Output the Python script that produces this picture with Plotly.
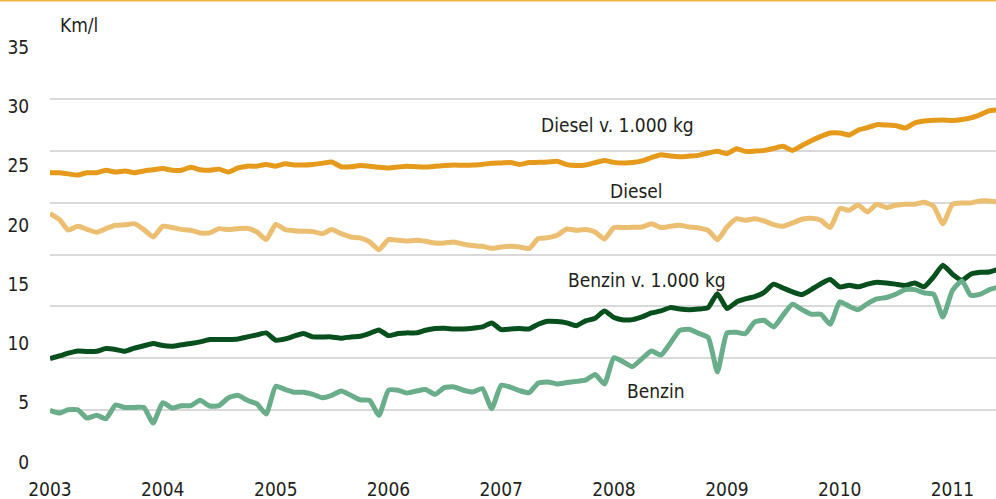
import pandas as pd
import plotly.graph_objects as go

months = pd.date_range("2003-01-01", periods=102, freq="MS")
year_ticks = [f"{y}-01-01" for y in range(2003, 2012)]
year_labels = [str(y) for y in range(2003, 2012)]
y_ticks = [0, 5, 10, 15, 20, 25, 30, 35]

diesel_1000 = [24.4, 24.4, 24.3, 24.2, 24.4, 24.4, 24.6, 24.45, 24.55, 24.4, 24.55, 24.65,
               24.75, 24.6, 24.6, 24.85, 24.65, 24.6, 24.7, 24.45, 24.8, 24.95, 24.95, 25.1,
               24.95, 25.15, 25.05, 25.05, 25.1, 25.2, 25.3, 24.9, 24.9, 25.0, 24.95, 24.85,
               24.8, 24.88, 24.94, 24.9, 24.88, 24.94, 25.0, 25.05, 25.02, 25.05, 25.1, 25.2,
               25.22, 25.25, 25.1, 25.25, 25.27, 25.3, 25.36, 25.08, 25.0, 25.05, 25.25, 25.42,
               25.27, 25.22, 25.25, 25.39, 25.67, 25.92, 25.8, 25.75, 25.8, 25.86, 26.06, 26.2,
               26.0, 26.42, 26.2, 26.22, 26.28, 26.45, 26.62, 26.28, 26.7, 27.1, 27.46, 27.75,
               27.75, 27.58, 27.98, 28.2, 28.45, 28.42, 28.37, 28.17, 28.6, 28.76, 28.82, 28.85,
               28.8, 28.88, 29.02, 29.3, 29.63, 29.7]

diesel = [20.95, 20.44, 19.57, 19.88, 19.62, 19.37, 19.68, 19.96, 20.0, 20.1, 19.6, 18.98,
          19.88, 19.77, 19.62, 19.54, 19.32, 19.32, 19.68, 19.6, 19.68, 19.71, 19.4, 18.77,
          20.04, 19.6, 19.51, 19.46, 19.43, 19.26, 19.6, 19.26, 18.98, 18.9, 18.56, 17.91,
          18.75, 18.7, 18.64, 18.7, 18.61, 18.47, 18.47, 18.56, 18.36, 18.25, 18.19, 18.02,
          18.14, 18.19, 18.14, 18.0, 18.84, 18.92, 19.12, 19.65, 19.54, 19.6, 19.4, 18.81,
          19.77, 19.77, 19.79, 19.82, 20.1, 19.77, 19.88, 19.96, 19.82, 19.74, 19.54, 18.75,
          19.82, 20.52, 20.38, 20.52, 20.33, 20.02, 19.88, 20.16, 20.47, 20.55, 20.38, 19.77,
          21.37, 21.23, 21.68, 21.09, 21.74, 21.46, 21.65, 21.74, 21.74, 21.91, 21.57, 20.1,
          21.74, 21.85, 21.85, 22.02, 22.02, 21.9]

benzin_1000 = [8.72, 8.95, 9.18, 9.37, 9.32, 9.34, 9.57, 9.49, 9.34, 9.6, 9.8, 9.99,
               9.82, 9.77, 9.88, 9.99, 10.13, 10.33, 10.33, 10.33, 10.38, 10.55, 10.72, 10.89,
               10.27, 10.38, 10.61, 10.83, 10.55, 10.55, 10.55, 10.44, 10.55, 10.6, 10.85, 11.14,
               10.66, 10.83, 10.89, 10.89, 11.11, 11.25, 11.28, 11.22, 11.22, 11.28, 11.39, 11.73,
               11.17, 11.22, 11.25, 11.22, 11.62, 11.87, 11.84, 11.73, 11.5, 11.9, 12.12, 12.74,
               12.18, 11.98, 12.01, 12.24, 12.57, 12.74, 13.02, 12.9, 12.85, 12.9, 13.02, 14.2,
               12.94, 13.5, 13.75, 13.95, 14.3, 15.0, 14.68, 14.35, 14.12, 14.54, 15.04, 15.39,
               14.77, 14.91, 14.77, 15.0, 15.16, 15.1, 15.0, 14.88, 15.1, 14.77, 15.61, 16.6,
               15.84, 15.33, 15.84, 16.0, 16.03, 16.3]

benzin = [4.36, 4.13, 4.41, 4.41, 3.7, 3.94, 3.65, 4.8, 4.6, 4.6, 4.6, 3.29,
          5.0, 4.55, 4.75, 4.75, 5.2, 4.72, 4.75, 5.42, 5.62, 5.2, 4.9, 4.05,
          6.39, 6.11, 5.88, 5.88, 5.71, 5.42, 5.62, 5.99, 5.62, 5.25, 5.2, 3.94,
          6.05, 6.05, 5.82, 5.99, 6.11, 5.71, 6.28, 6.33, 6.05, 5.91, 6.19, 4.5,
          6.47, 6.3, 6.02, 5.85, 6.67, 6.75, 6.58, 6.7, 6.8, 6.9, 7.39, 6.58,
          8.8, 8.44, 8.05, 8.72, 9.37, 9.02, 10.0, 11.1, 11.2, 10.85, 10.5, 7.6,
          10.88, 10.94, 10.82, 11.81, 11.95, 11.39, 12.37, 13.3, 12.85, 12.46, 12.46, 11.61,
          13.5, 13.13, 12.85, 13.36, 13.75, 13.87, 14.15, 14.54, 14.54, 14.26, 14.15, 12.23,
          14.48, 15.27, 14.06, 14.15, 14.54, 14.76]

series = [
    ("Diesel v. 1.000 kg", diesel_1000, "#E69A1C"),
    ("Diesel", diesel, "#EBBE71"),
    ("Benzin v. 1.000 kg", benzin_1000, "#07501E"),
    ("Benzin", benzin, "#69AD8A"),
]

FONT = "DejaVu Sans Condensed, Liberation Sans Narrow, sans-serif"
FS = 19
TXT = "#231F20"

fig = go.Figure()
# invisible anchor trace so the gridline axis (y2) is rendered
fig.add_trace(go.Scatter(x=[months[0]], y=[0], yaxis="y2", mode="markers",
                         marker=dict(opacity=0), hoverinfo="skip", showlegend=False))
for name, vals, col in series:
    fig.add_trace(go.Scatter(x=months, y=vals, mode="lines", name=name,
                             line=dict(color=col, width=5, shape="spline", smoothing=0.5),
                             hoverinfo="skip"))

labels = [
    ("Diesel v. 1.000 kg", "2008-01-13", 28.45),
    ("Diesel", "2008-03-13", 22.85),
    ("Benzin v. 1.000 kg", "2008-04-16", 15.35),
    ("Benzin", "2008-05-16", 5.95),
]
for text, xv, yv in labels:
    fig.add_annotation(x=xv, y=yv, text=text, showarrow=False, xanchor="center",
                       yanchor="middle", font=dict(family=FONT, size=FS, color=TXT))

fig.add_annotation(xref="paper", yref="paper", x=0.0085, y=1.052, text="Km/l",
                   showarrow=False, xanchor="left", yanchor="middle",
                   font=dict(family=FONT, size=FS, color=TXT))

fig.add_shape(type="line", xref="paper", yref="paper", x0=-0.06, x1=1.0,
              y0=1.1115, y1=1.1115, line=dict(color="#F0B43C", width=1.5))

fig.update_layout(
    width=996, height=499,
    margin=dict(l=50, r=0, t=47, b=37),
    paper_bgcolor="white", plot_bgcolor="white",
    showlegend=False,
    font=dict(family=FONT, size=FS, color=TXT),
    xaxis=dict(type="date", range=["2003-01-01", "2011-05-22"],
               tickmode="array", tickvals=year_ticks, ticktext=year_labels,
               showgrid=False, zeroline=False, showline=False,
               ticks="outside", ticklen=10, tickcolor="rgba(0,0,0,0)",
               tickfont=dict(family=FONT, size=FS, color=TXT)),
    yaxis=dict(range=[0, 35], tickmode="array", tickvals=y_ticks,
               showgrid=False, zeroline=False, showline=False,
               ticks="outside", ticklen=16, tickcolor="rgba(0,0,0,0)",
               tickfont=dict(family=FONT, size=FS, color=TXT)),
    yaxis2=dict(overlaying="y", anchor="x", side="left", range=[0, 35],
                tickmode="linear", tick0=0, dtick=35 / 8,
                showticklabels=False, showgrid=True, gridcolor="#D9D9D9",
                gridwidth=2, zeroline=False, showline=False, ticks=""),
)

fig.write_html("out.html", config={"displayModeBar": False},
               post_script="document.body.style.margin='0';")
